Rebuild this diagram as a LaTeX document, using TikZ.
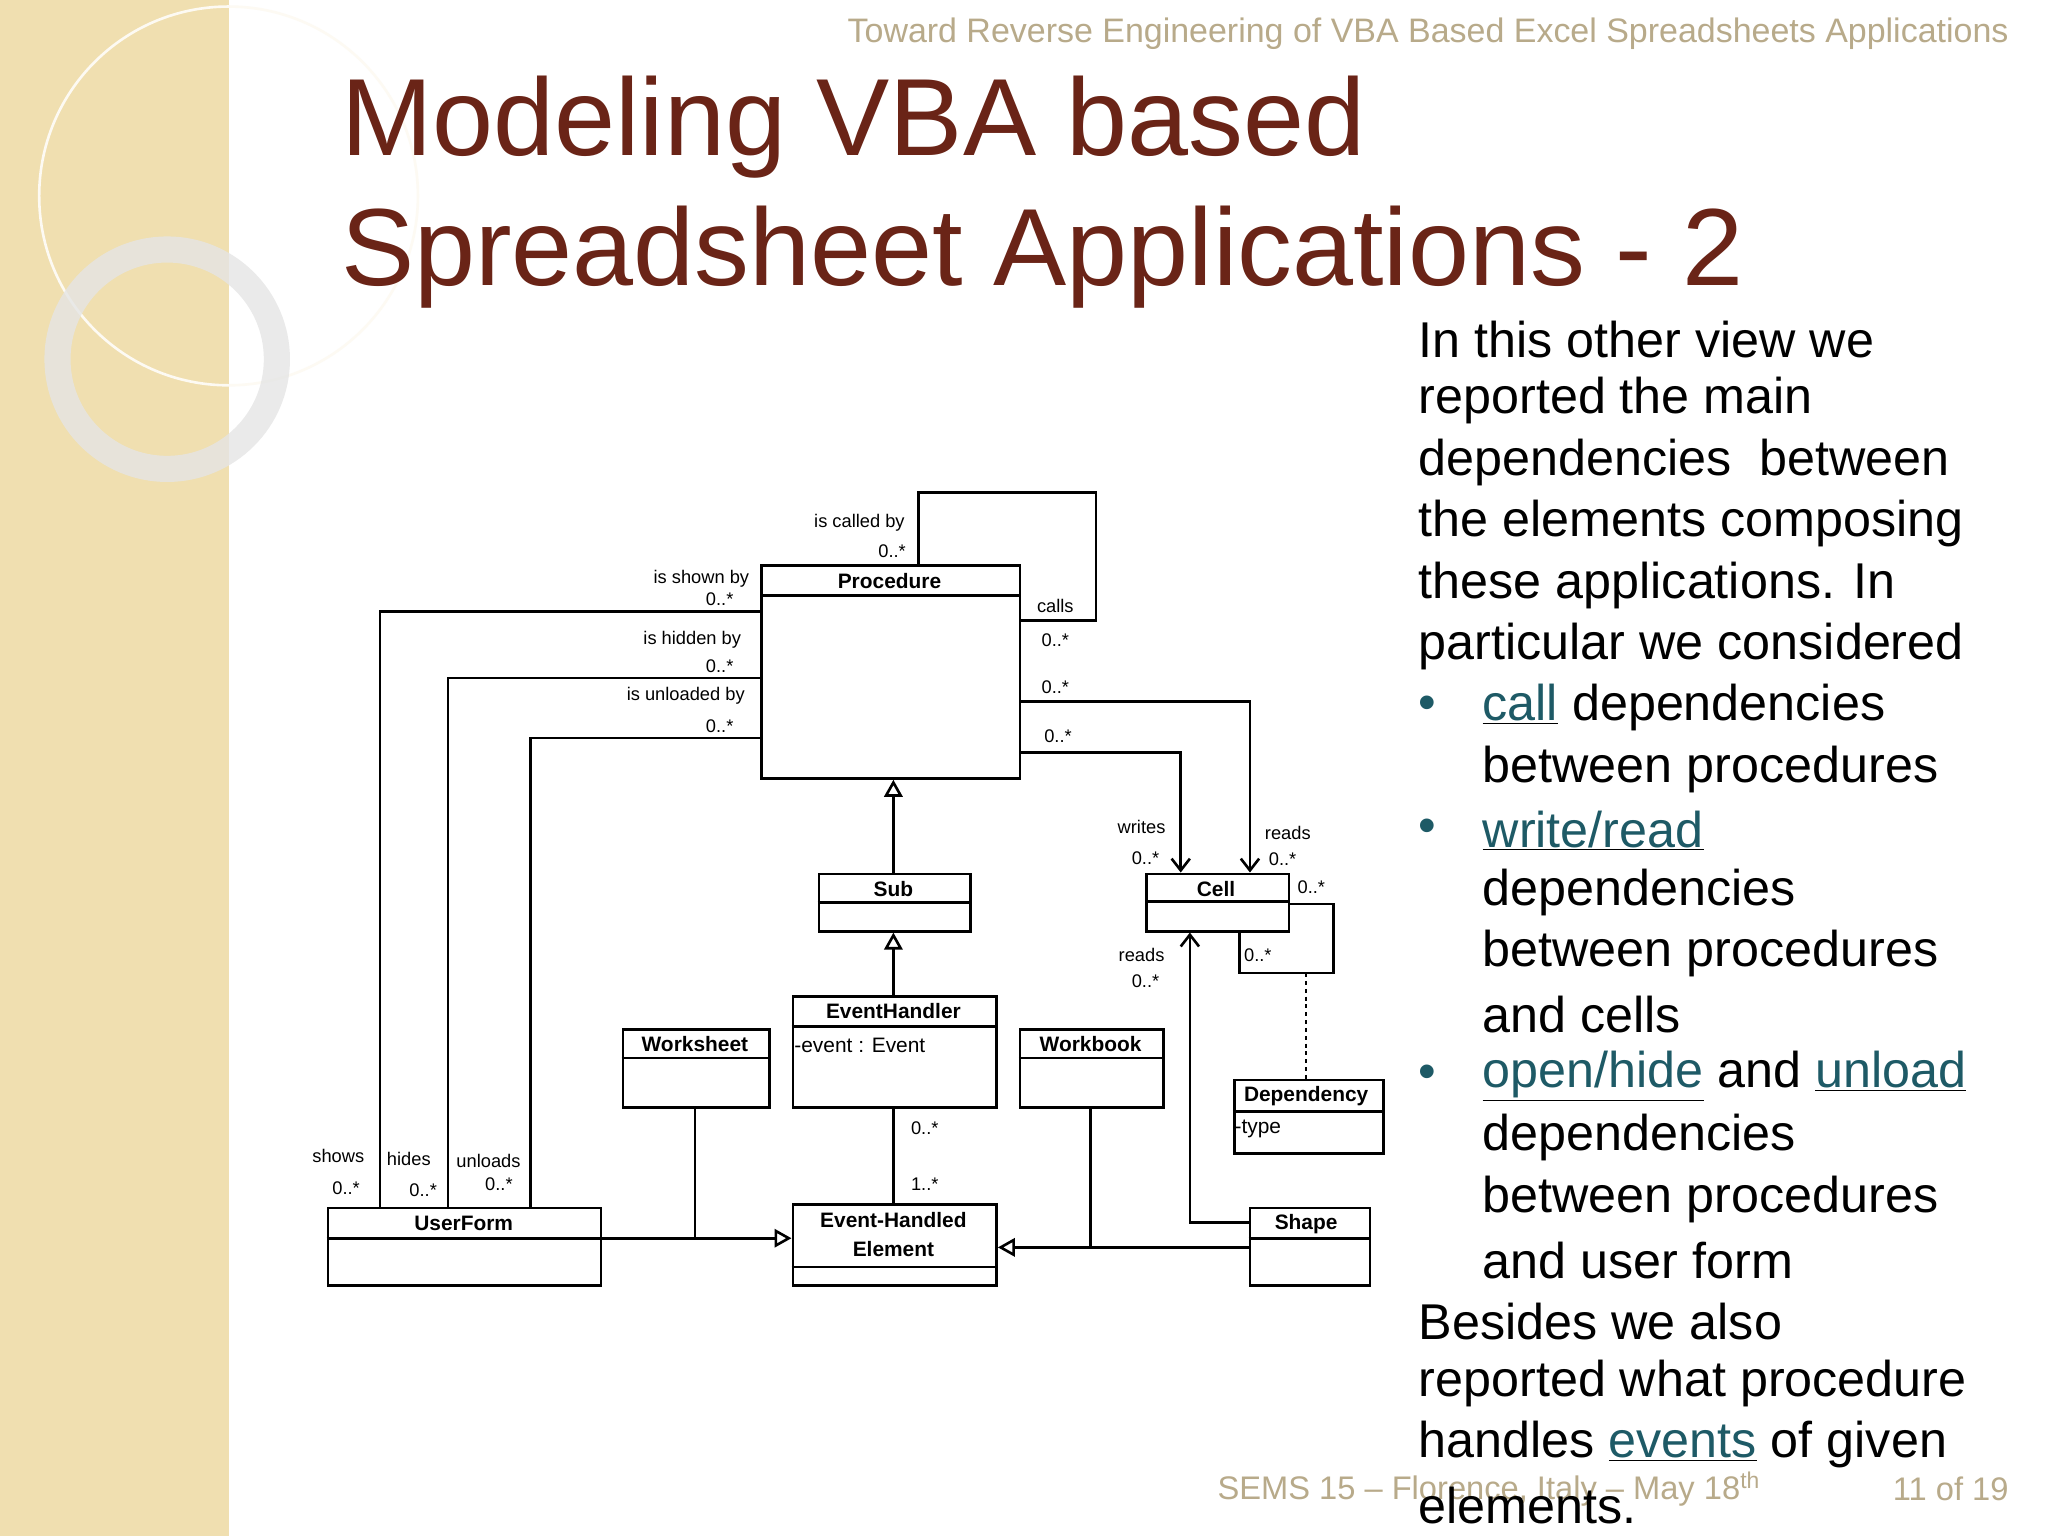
\documentclass[tikz,border=0pt]{standalone}
\usepackage{fontspec}
\setmainfont{Liberation Sans}
\usetikzlibrary{arrows.meta}
\definecolor{beige}{HTML}{F0DFB0}
\definecolor{titlec}{HTML}{6A2417}
\definecolor{linkc}{HTML}{1E5A66}
\definecolor{headc}{HTML}{B8AA8A}
\newcommand{\lnk}[1]{\underline{\textcolor{linkc}{#1}}}
\begin{document}
\begin{tikzpicture}[x=1pt,y=-1pt,
  cls/.style={draw,line width=2pt,inner sep=0pt,anchor=north west},
  cname/.style={font=\fontsize{16}{18}\selectfont\bfseries,inner sep=1pt},
  lab/.style={font=\fontsize{14}{16}\selectfont,inner sep=0pt},
  con/.style={line width=2pt},
  nav/.style={con,-{Straight Barb[length=9pt,width=14pt,line width=2pt]}},
  gen/.style={con,-{Triangle[open,length=13pt,width=14pt,line width=2pt]}},
  body/.style={font=\fontsize{38.5}{47}\selectfont,anchor=west,inner sep=0pt}]
\useasboundingbox (0,0) rectangle (1568,1176);
\fill[white] (0,0) rectangle (1568,1176);
\fill[beige] (0,0) rectangle (175,1176);
\draw[white!85!beige,line width=2pt] (175,150) circle (145);
\draw[white!80!gray,line width=20pt,opacity=0.8] (128,275) circle (84);
% header / title
\node[anchor=east,text=headc,font=\fontsize{26}{28}\selectfont,inner sep=0pt] (hdr) at (1538,26) {Toward Reverse Engineering of VBA Based Excel Spreadsheets Applications};
\node[anchor=west,text=titlec,font=\fontsize{84}{100}\selectfont,inner sep=0pt] (t1) at (261,97) {Modeling VBA based};
\node[anchor=west,text=titlec,font=\fontsize{84}{100}\selectfont,inner sep=0pt] (t2) at (261,197) {Spreadsheet Applications - 2};
% body text
\node[body] (b1) at (1086,260) {In this other view we};
\node[body] (b2) at (1086,307) {reported the main};
\node[body] (b3) at (1086,354) {dependencies\ \ between};
\node[body] (b4) at (1086,401) {the elements composing};
\node[body] (b5) at (1086,448) {these applications. In};
\node[body] (b6) at (1086,495) {particular we considered};
\node[body,text=linkc] (u1) at (1086,542) {•};
\node[body] (b7) at (1135,542) {\lnk{call} dependencies};
\node[body] (b8) at (1135,589) {between procedures};
\node[body,text=linkc] (u2) at (1086,636) {•};
\node[body] (b9) at (1135,636) {\lnk{write/read}};
\node[body] (b10) at (1135,683) {dependencies};
\node[body] (b11) at (1135,730) {between procedures};
\node[body] (b12) at (1135,777) {and cells};
\node[body,text=linkc] (u3) at (1086,824) {•};
\node[body] (b13) at (1135,824) {\lnk{open/hide} and \lnk{unload}};
\node[body] (b14) at (1135,871) {dependencies};
\node[body] (b15) at (1135,918) {between procedures};
\node[body] (b16) at (1135,965) {and user form};
\node[body] (b17) at (1086,1012) {Besides we also};
\node[body] (b18) at (1086,1059) {reported what procedure};
\node[body] (b19) at (1086,1106) {handles \lnk{events} of given};
\node[anchor=west,text=headc,font=\fontsize{25}{27}\selectfont,inner sep=0pt] (ft) at (932,1140) {SEMS 15 – Florence, Italy – May 18\textsuperscript{th}};
\node[anchor=east,text=headc,font=\fontsize{25}{27}\selectfont,inner sep=0pt] (pg) at (1538,1140) {11 of 19};
\node[body] (b20) at (1086,1153) {elements.};
% classes
\node[cls,minimum width=198,minimum height=163] (proc) at (582,432) {};
\draw[con] (582,456) -- (780,456);
\node[cname] (procn) at (681,445) {Procedure};
\node[cls,minimum width=116,minimum height=44] (sub) at (626,668) {};
\draw[con] (626,691) -- (742,691);
\node[cname] (subn) at (684,681) {Sub};
\node[cls,minimum width=109,minimum height=44] (cell) at (877,668) {};
\draw[con] (877,690) -- (986,690);
\node[cname] (celln) at (931,681) {Cell};
\node[cls,minimum width=156,minimum height=85] (eh) at (606,762) {};
\draw[con] (606,786) -- (762,786);
\node[cname] (ehn) at (684,774) {EventHandler};
\node[lab,anchor=west,font=\fontsize{16}{18}\selectfont] (eha) at (608,800) {-event : Event};
\node[cls,minimum width=112,minimum height=60] (ws) at (476,787) {};
\draw[con] (476,810) -- (588,810);
\node[cname] (wsn) at (532,799) {Worksheet};
\node[cls,minimum width=110,minimum height=60] (wb) at (780,787) {};
\draw[con] (780,810) -- (890,810);
\node[cname] (wbn) at (835,799) {Workbook};
\node[cls,minimum width=114,minimum height=56] (dep) at (944,826) {};
\draw[con] (944,851) -- (1058,851);
\node[cname] (depn) at (1000,839) {Dependency};
\node[lab,anchor=west,font=\fontsize{16}{18}\selectfont] (depa) at (945,864) {-type};
\node[cls,minimum width=209,minimum height=59] (uf) at (250,924) {};
\draw[con] (250,948) -- (459,948);
\node[cname] (ufn) at (355,937) {UserForm};
\node[cls,minimum width=156,minimum height=62] (ehe) at (606,921) {};
\draw[con] (606,970) -- (762,970);
\node[cname,align=center,font=\fontsize{16}{22}\selectfont\bfseries] (ehen) at (684,945) {Event-Handled\\Element};
\node[cls,minimum width=92,minimum height=59] (shp) at (956,924) {};
\draw[con] (956,948) -- (1048,948);
\node[cname] (shpn) at (1000,937) {Shape};
% procedure self loop
\draw[con] (proc.north west -| 703,0) -- (703,377) -- (839,377) -- (839,475) -- (proc.east |- 0,475);
\node[lab] (l1) at (658,400) {is called by};
\node[lab] (l2) at (683,422) {0..*};
\node[lab] (l3) at (808,464) {calls};
\node[lab] (l4) at (808,490) {0..*};
% procedure to userform
\draw[con] (proc.west |- 0,468) -- (291,468) -- (uf.north -| 291,0);
\draw[con] (proc.west |- 0,519) -- (343,519) -- (uf.north -| 343,0);
\draw[con] (proc.west |- 0,565) -- (406,565) -- (uf.north -| 406,0);
\node[lab] (l5) at (537,443) {is shown by};
\node[lab] (l6) at (551,459) {0..*};
\node[lab] (l7) at (530,490) {is hidden by};
\node[lab] (l8) at (551,510) {0..*};
\node[lab] (l9) at (525,533) {is unloaded by};
\node[lab] (l10) at (551,556) {0..*};
\node[lab] (l11) at (259,885) {shows};
\node[lab] (l12) at (265,910) {0..*};
\node[lab] (l13) at (313,887) {hides};
\node[lab] (l14) at (324,911) {0..*};
\node[lab] (l15) at (374,889) {unloads};
\node[lab] (l16) at (382,907) {0..*};
% procedure to cell
\draw[nav] (proc.east |- 0,537) -- (957,537) -- (cell.north -| 957,0);
\draw[nav] (proc.east |- 0,576) -- (904,576) -- (cell.north -| 904,0);
\node[lab] (l17) at (808,526) {0..*};
\node[lab] (l18) at (810,564) {0..*};
\node[lab] (l19) at (874,633) {writes};
\node[lab] (l20) at (877,657) {0..*};
\node[lab] (l21) at (986,638) {reads};
\node[lab] (l22) at (982,658) {0..*};
% cell self loop
\draw[con] (cell.east |- 0,692) -- (1021,692) -- (1021,745) -- (949,745) -- (cell.south -| 949,0);
\node[lab] (l23) at (1004,679) {0..*};
\node[lab] (l24) at (963,731) {0..*};
\draw[con,dashed,line width=1pt] (1000,745) -- (dep.north -| 1000,0);
% shape to cell
\draw[nav] (shp.west |- 0,936) -- (911,936) -- (cell.south -| 911,0);
\node[lab] (l25) at (874,731) {reads};
\node[lab] (l26) at (877,751) {0..*};
% generalizations
\draw[gen] (sub.north -| 684,0) -- (proc.south -| 684,0);
\draw[gen] (eh.north -| 684,0) -- (sub.south -| 684,0);
\draw[con] (eh.south -| 684,0) -- (ehe.north -| 684,0);
\node[lab] (l27) at (708,864) {0..*};
\node[lab] (l28) at (708,907) {1..*};
\draw[gen] (uf.east |- 0,948) -- (ehe.west |- 0,948);
\draw[con] (ws.south -| 532,0) -- (532,948);
\draw[gen] (shp.west |- 0,955) -- (ehe.east |- 0,955);
\draw[con] (wb.south -| 835,0) -- (835,955);
\end{tikzpicture}
\end{document}
